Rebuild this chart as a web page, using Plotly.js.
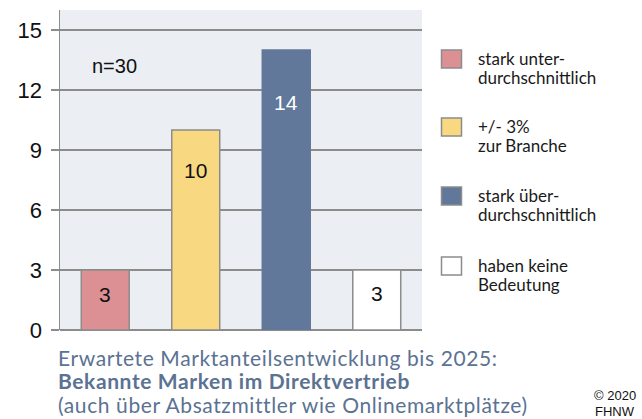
<!DOCTYPE html>
<html>
<head>
<meta charset="utf-8">
<script src="https://cdn.plot.ly/plotly-3.0.1.min.js"></script>
<style>
html,body{margin:0;padding:0;background:#fff;}
#chart{width:642px;height:419px;}
</style>
</head>
<body>
<div id="chart"></div>
<script>
// ---- data ----
var categories = ["stark unterdurchschnittlich", "+/- 3% zur Branche", "stark überdurchschnittlich", "haben keine Bedeutung"];
var values = [3, 10, 14, 3];
var legendLines = [
  ["stark unter-", "durchschnittlich"],
  ["+/- 3%", "zur Branche"],
  ["stark über-", "durchschnittlich"],
  ["haben keine", "Bedeutung"]
];
var barColors = ["#dd9094", "#f8d982", "#61789a", "#ffffff"];
var barLineColors = ["#8c8c8c", "#8c8c8c", "#61789a", "#8c8c8c"];
var labelColors = ["#111111", "#111111", "#ffffff", "#111111"];
var yTicks = [0, 3, 6, 9, 12, 15];
var sampleText = "n=30";
var captionLines = [
  "Erwartete Marktanteilsentwicklung bis 2025:",
  "Bekannte Marken im Direktvertrieb",
  "(auch über Absatzmittler wie Onlinemarktplätze)"
];
var copyrightLines = ["© 2020", "FHNW"];

// ---- layout helpers ----
var L = 60, R = 422, T = 10, B = 330;
function xp(px){ return (px - L) / (R - L); }
function yp(py){ return (B - py) / (B - T); }

var trace = {
  type: "bar",
  x: categories,
  y: values,
  width: 0.53,
  marker: { color: barColors, line: { color: barLineColors, width: 1.5 } },
  hoverinfo: "x+y",
  showlegend: false
};

var annotations = [];
var shapes = [];

// value labels inside bars
var labelY = [1.8, 8, 11.4, 1.85];
values.forEach(function(v, i){
  annotations.push({
    x: categories[i], y: labelY[i], xref: "x", yref: "y",
    xanchor: "center", yanchor: "middle",
    text: String(v), showarrow: false,
    font: { family: "Liberation Sans, Arial, sans-serif", size: 21, color: labelColors[i] }
  });
});

// n=30
annotations.push({
  x: xp(114), y: yp(66), xref: "paper", yref: "paper",
  xanchor: "center", yanchor: "middle",
  text: sampleText, showarrow: false,
  font: { family: "Liberation Sans, Arial, sans-serif", size: 20, color: "#111" }
});

// custom legend
var legTop = [50, 118, 187, 257];
legendLines.forEach(function(lines, i){
  var top = legTop[i];
  shapes.push({
    type: "rect", xref: "paper", yref: "paper",
    x0: xp(441.5), x1: xp(461.5), y0: yp(top), y1: yp(top + 18),
    fillcolor: barColors[i], line: { color: "#8c8c8c", width: 1.5 }
  });
  lines.forEach(function(t, j){
    annotations.push({
      x: xp(476), y: yp(top + 8 + j * 19), xref: "paper", yref: "paper",
      xanchor: "left", yanchor: "middle",
      text: t, showarrow: false,
      font: { family: "Lato, sans-serif", size: 17, color: "#1a1a1a" }
    });
  });
});

// caption
var captionStart = annotations.length;
var capY = [357, 380.5, 404];
captionLines.forEach(function(t, i){
  annotations.push({
    x: xp(56), y: yp(capY[i]), xref: "paper", yref: "paper",
    xanchor: "left", yanchor: "middle",
    text: i === 1 ? "<b>" + t + "</b>" : t, showarrow: false,
    font: { family: "Lato, sans-serif", size: 21, color: "#5b7292" }
  });
});
var captionEnd = annotations.length;

// copyright
var copY = [395, 411];
copyrightLines.forEach(function(t, i){
  annotations.push({
    x: xp(615), y: yp(copY[i]), xref: "paper", yref: "paper",
    xanchor: "center", yanchor: "middle",
    text: t, showarrow: false,
    font: { family: "Liberation Sans, Arial, sans-serif", size: 13, color: "#111" }
  });
});

var layout = {
  width: 642, height: 419,
  margin: { l: L, r: 642 - R, t: T, b: 419 - B, pad: 0 },
  paper_bgcolor: "#ffffff",
  plot_bgcolor: "#ebeef2",
  xaxis: {
    type: "category", range: [-0.5, 3.5],
    showticklabels: false, ticks: "", showgrid: false, zeroline: false, showline: false,
    fixedrange: true
  },
  yaxis: {
    range: [0, 16], tickvals: yTicks, ticktext: yTicks.map(String),
    showgrid: true, gridcolor: "#8c8c8c", gridwidth: 1.5,
    zeroline: true, zerolinecolor: "#8c8c8c", zerolinewidth: 1.5,
    showline: true, linecolor: "#8c8c8c", linewidth: 1.5,
    ticks: "outside", ticklen: 8, tickcolor: "#8c8c8c", tickwidth: 1.5,
    ticklabelstandoff: 4,
    tickfont: { family: "Liberation Sans, Arial, sans-serif", size: 22, color: "#111" },
    fixedrange: true
  },
  bargap: 0.47,
  annotations: annotations,
  shapes: shapes,
  showlegend: false
};

// widen caption letter spacing slightly, keeping the left edge fixed
function spaceCaptions(gd){
  gd.querySelectorAll("g.annotation").forEach(function(g){
    var idx = +g.getAttribute("data-index");
    if (idx < captionStart || idx >= captionEnd) return;
    var txt = g.querySelector("text.annotation-text");
    if (!txt) return;
    var bb = txt.getBBox();
    txt.setAttribute("text-anchor", "start");
    txt.setAttribute("x", bb.x);
    txt.style.letterSpacing = "0.6px";
  });
}

Plotly.newPlot("chart", [trace], layout, { displayModeBar: false, staticPlot: true }).then(spaceCaptions);
</script>
</body>
</html>
